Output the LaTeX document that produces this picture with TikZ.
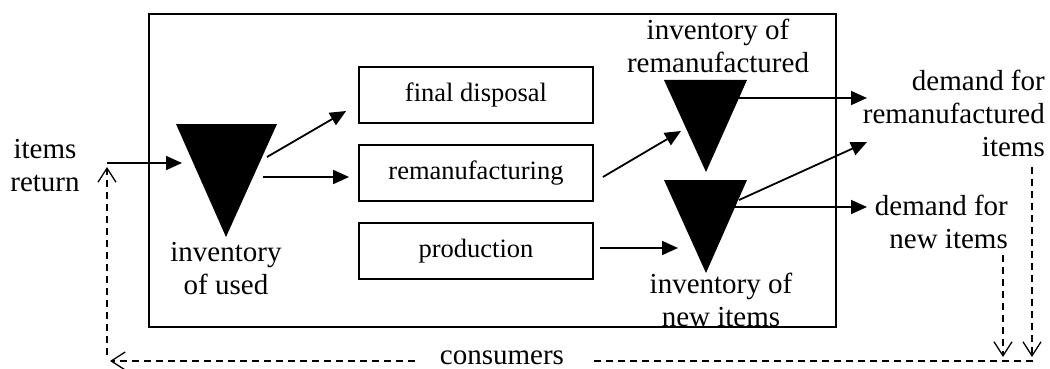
\documentclass[tikz,border=0pt]{standalone}
\usepackage{fontspec}
\setmainfont{Liberation Serif}
\usetikzlibrary{arrows.meta,calc}

\begin{document}
\begin{tikzpicture}[x=1pt,y=1pt,yscale=-1,
  lbl/.style={align=center,inner sep=0pt,font=\fontsize{29}{33}\selectfont},
  procbox/.style={draw,line width=1.8pt,minimum width=234pt,minimum height=56pt,inner sep=0pt,font=\fontsize{26.5}{30}\selectfont},
  flow/.style={line width=1.8pt,-{Triangle[length=16pt,width=14pt]}},
  returnflow/.style={line width=1.3pt,dash pattern=on 7pt off 5pt,-{Straight Barb[length=14pt,width=18pt,line width=1.3pt]}},
  stock/.style={fill=black}]
\useasboundingbox (0,0) rectangle (1050,369);

%Outer Rectangle
\draw [line width=1.8pt] (149,14) rectangle (836,327);

%Process Boxes
\node[procbox] (fd) at (476,95) {final disposal};
\node[procbox] (rm) at (476,173) {remanufacturing};
\node[procbox] (pr) at (476,251) {production};

%Stock Triangles
\fill [stock] (176,124) -- (277,124) -- (226,237) -- cycle;
\fill [stock] (664,80) -- (747,80) -- (706,172) -- cycle;
\fill [stock] (664,180) -- (747,180) -- (706,273) -- cycle;

%Connector Ends
\coordinate (retout) at (107,163);
\coordinate (usedin) at (182,163);
\coordinate (usedfd) at (267,157);
\coordinate (usedrm) at (263,177);
\coordinate (remin) at (681,131);
\coordinate (remout) at (739,98);
\coordinate (newin) at (678,248);
\coordinate (newout) at (739,200);
\coordinate (newoutb) at (735,207);
\coordinate (dremin) at (867,98);
\coordinate (dremnew) at (867,142);
\coordinate (dnewin) at (867,207);

% Text Node
\node[lbl] (ret) at (45,166) {items\\return};
% Text Node
\node[lbl] (usedlbl) at (226,269) {inventory\\of used};
% Text Node
\node[lbl] (remlbl) at (718,46) {inventory of\\remanufactured};
% Text Node
\node[lbl,align=right,anchor=east] (dremlbl) at (1045,113) {demand for\\remanufactured\\items};
% Text Node
\node[lbl,align=right,anchor=east] (dnewlbl) at (1008,222) {demand for\\new items};
% Text Node
\node[lbl] (newlbl) at (721,300) {inventory of\\new items};
% Text Node
\node[lbl,inner xsep=25pt] (cons) at (502,358) {consumers};

%Material Flows
\draw [flow] (retout) -- (usedin);
\draw [flow] (usedfd) -- ($(fd.west)+(-12,16)$);
\draw [flow] (usedrm) -- ($(rm.west)+(-9,4)$);
\draw [flow] ($(rm.east)+(9,4)$) -- (remin);
\draw [flow] ($(pr.east)+(6,-3)$) -- (newin);
\draw [flow] (remout) -- (dremin);
\draw [flow] (newout) -- (dremnew);
\draw [flow] (newoutb) -- (dnewin);

%Return Flows
\draw [returnflow] (1032,167) -- (1032,357);
\draw [returnflow] (1003,255) -- (1003,357);
\draw [returnflow,-] (1033,361) -- ($(cons.east)+(0,3)$);
\draw [returnflow] ($(cons.west)+(0,3)$) -- (110,361);
\draw [returnflow] (107,355) -- (107,167);

\end{tikzpicture}
\end{document}
